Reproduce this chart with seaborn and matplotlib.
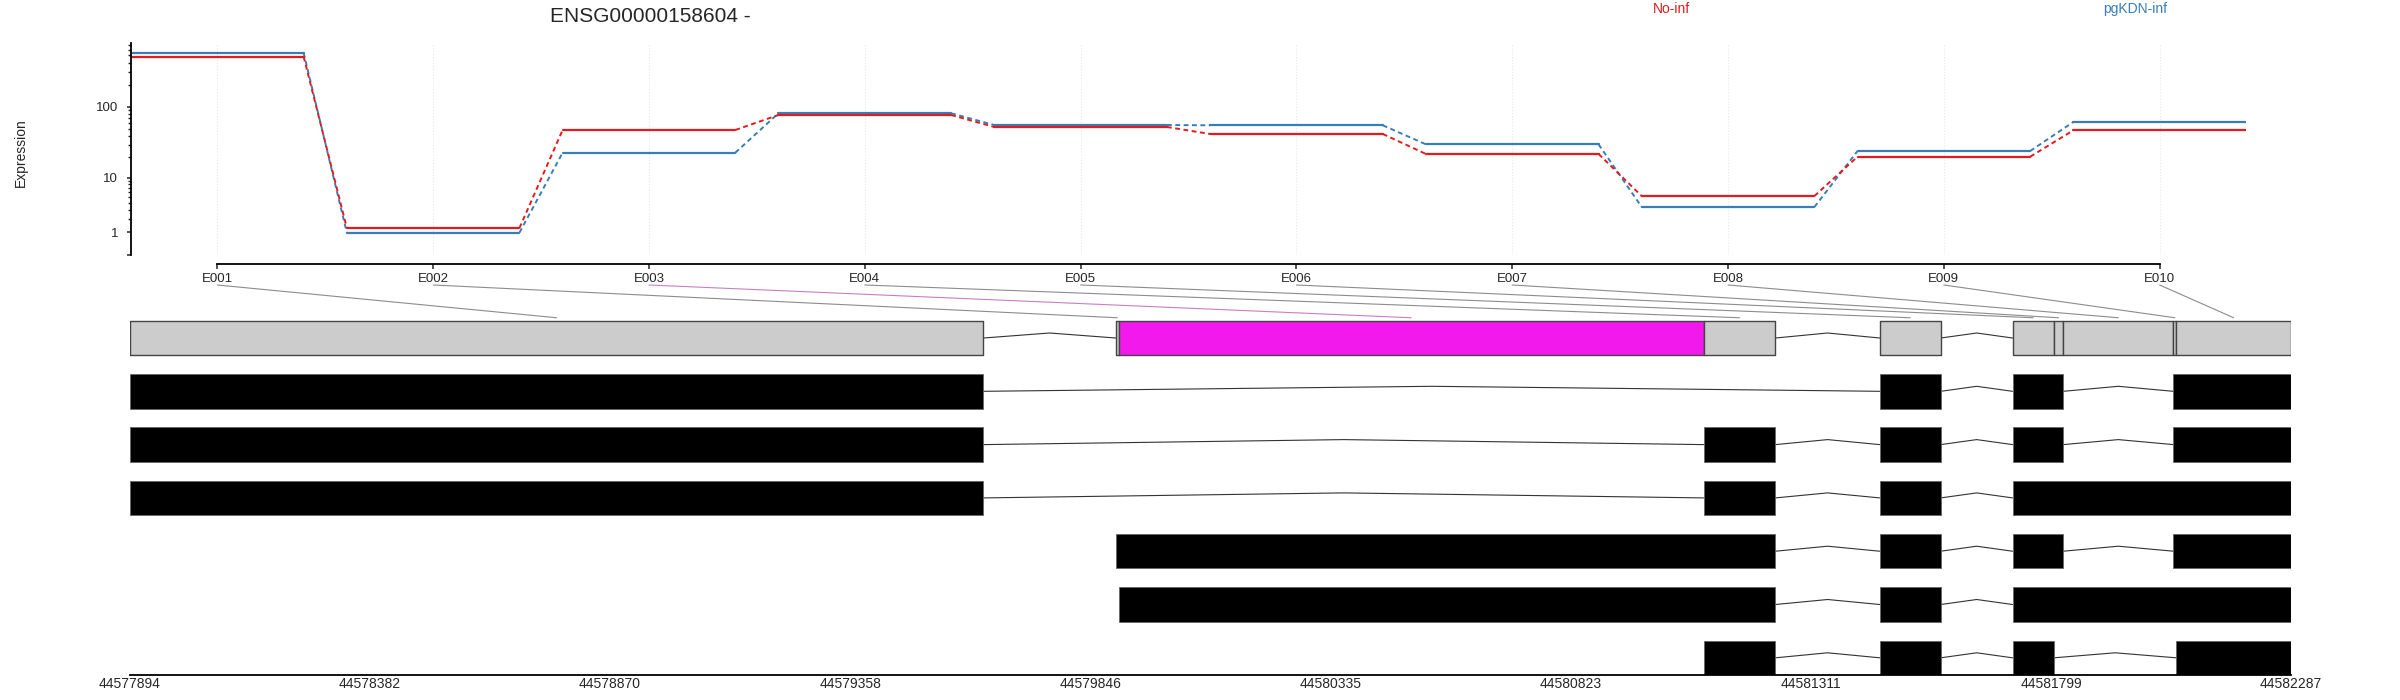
import numpy as np
import pandas as pd
import matplotlib
matplotlib.use("Agg")
import matplotlib.pyplot as plt
from matplotlib import transforms
from matplotlib.patches import ConnectionPatch
import seaborn as sns

# ---- data ----
gene_id = "ENSG00000158604 -"
exon_ids = ["E001", "E002", "E003", "E004", "E005",
            "E006", "E007", "E008", "E009", "E010"]
conditions = ["No-inf", "pgKDN-inf"]
expr_noinf = [480, 1.29, 47.8, 77, 52.6, 42.1, 22.1, 5.2, 20.2, 47.3]
expr_pgkdn = [540, 0.98, 23.0, 81.2, 56.0, 55.5, 30.2, 3.4, 24.3, 61.7]
sig_exons = ["E003"]

# exon bin genomic coordinates
bin_start = [44577894, 44579898, 44579904, 44581093, 44581451,
             44581721, 44581805, 44581824, 44582048, 44582054]
bin_end = [44579629, 44579904, 44581093, 44581239, 44581575,
           44581805, 44581824, 44582048, 44582054, 44582287]

# transcripts, as the exon bins they cover
transcripts = [
    ["E001", "E005", "E006", "E007", "E009", "E010"],
    ["E001", "E004", "E005", "E006", "E007", "E009", "E010"],
    ["E001", "E004", "E005", "E006", "E007", "E008", "E009", "E010"],
    ["E002", "E003", "E004", "E005", "E006", "E007", "E009", "E010"],
    ["E003", "E004", "E005", "E006", "E007", "E008", "E009", "E010"],
    ["E004", "E005", "E006", "E010"],
]

genome_ticks = [44577894, 44578382, 44578870, 44579358, 44579846,
                44580335, 44580823, 44581311, 44581799, 44582287]

palette = {"No-inf": "#E41A1C", "pgKDN-inf": "#377EB8"}
sig_col = "#F219ED"

sns.set_theme(style="ticks")
plt.rcParams['font.family'] = ['Liberation Sans', 'DejaVu Sans']

W, H = 2400, 700
fig = plt.figure(figsize=(24, 7), dpi=100)

# ---- expression panel ----
ax_top = fig.add_axes([131 / W, 1 - 254.5 / H, 2115 / W, (254.5 - 43.3) / H])

seg_rows, link_rows = [], []
for cond, vals in zip(conditions, [expr_noinf, expr_pgkdn]):
    for i, v in enumerate(vals, start=1):
        seg_rows.append(dict(condition=cond, seg=i, x=i - 0.4, expr=v))
        seg_rows.append(dict(condition=cond, seg=i, x=i + 0.4, expr=v))
    for i in range(1, len(vals)):
        link_rows.append(dict(condition=cond, seg=i, x=i + 0.4, expr=vals[i - 1]))
        link_rows.append(dict(condition=cond, seg=i, x=i + 0.6, expr=vals[i]))
seg_df = pd.DataFrame(seg_rows)
link_df = pd.DataFrame(link_rows)

order = ["pgKDN-inf", "No-inf"]
sns.lineplot(data=link_df, x="x", y="expr", hue="condition", units="seg",
             estimator=None, hue_order=order, palette=palette, lw=1.4,
             linestyle=(0, (2.5, 1.8)), legend=False, sort=False, ax=ax_top)
sns.lineplot(data=seg_df, x="x", y="expr", hue="condition", units="seg",
             estimator=None, hue_order=order, palette=palette, lw=1.6,
             legend=False, sort=False, ax=ax_top)

ax_top.set_yscale("function", functions=(lambda v: np.log10(v + 1),
                                         lambda y: 10 ** y - 1))
ax_top.set_ylim(0, 730)
ax_top.set_xlim(0.6, 10.4)
ax_top.set_xticks(range(1, len(exon_ids) + 1))
ax_top.set_xticklabels(exon_ids)
ax_top.set_yticks([0, 1, 10, 100])
ax_top.set_yticklabels(["", "1", "10", "100"])
minor = [m * d for d in (1, 10, 100) for m in range(2, 10) if m * d <= 700]
ax_top.set_yticks(minor, minor=True)
ax_top.set_xlabel("")
ax_top.set_ylabel("")
ax_top.grid(axis="x", color="#e8e8e8", linestyle=":", lw=0.8)
for s in ["top", "right"]:
    ax_top.spines[s].set_visible(False)
ax_top.spines["bottom"].set_position(("outward", 7))
ax_top.spines["bottom"].set_bounds(1, 10)
for s in ["left", "bottom"]:
    ax_top.spines[s].set_linewidth(1.3)
    ax_top.spines[s].set_color("black")
ax_top.tick_params(axis="y", which="major", length=3.2, width=1.1, pad=6, labelsize=9.5)
ax_top.tick_params(axis="y", which="minor", length=2.2, width=1.0, left=True)
ax_top.tick_params(axis="x", which="major", length=3.5, width=1.1, pad=2.5, labelsize=9.5)
ax_top.tick_params(axis="x", which="minor", bottom=False)

fig.text(650 / W, 1 - 16 / H, gene_id, ha="center", va="center", fontsize=15)
fig.text(1672 / W, 1 - 9 / H, conditions[0], ha="center", va="center",
         fontsize=10, color=palette["No-inf"])
fig.text(2135 / W, 1 - 9 / H, conditions[1], ha="center", va="center",
         fontsize=10, color=palette["pgKDN-inf"])
fig.text(21 / W, 1 - 153 / H, "Expression", rotation=90, ha="center",
         va="center", fontsize=10)

# ---- gene model panel ----
ax_bot = fig.add_axes([130 / W, 1 - 675 / H, (2291 - 130) / W, 375 / H])
box_h = 0.645
peak = 0.094


def blocks(ids):
    idx = [exon_ids.index(e) for e in ids]
    out = []
    for k in idx:
        if out and k == out[-1][2] + 1 and bin_start[k] == out[-1][1]:
            out[-1] = (out[-1][0], bin_end[k], k)
        else:
            out.append((bin_start[k], bin_end[k], k))
    return [(a, b) for a, b, _ in out]


def draw_introns(bl, row):
    for (s0, e0), (s1, e1) in zip(bl[:-1], bl[1:]):
        ax_bot.plot([e0, (e0 + s1) / 2, s1], [row, row - peak, row],
                    color="#333333", lw=0.8, zorder=1)


# row 0: exon bins
bin_cols = [sig_col if e in sig_exons else "#CCCCCC" for e in exon_ids]
ax_bot.broken_barh([(s, e - s) for s, e in zip(bin_start, bin_end)],
                   (-box_h / 2, box_h), facecolors=bin_cols,
                   edgecolor="#444444", lw=1.0, zorder=2)
draw_introns(blocks(exon_ids), 0)

# transcripts
for r, tx in enumerate(transcripts, start=1):
    bl = blocks(tx)
    ax_bot.broken_barh([(s, e - s) for s, e in bl], (r - box_h / 2, box_h),
                       facecolors="black", edgecolor="#666666", lw=0.6, zorder=2)
    draw_introns(bl, r)

ax_bot.set_xlim(genome_ticks[0], genome_ticks[-1])
ax_bot.set_ylim(len(transcripts) + box_h / 2, len(transcripts) + box_h / 2 - 375 / 53.3)
ax_bot.set_xticks(genome_ticks)
ax_bot.set_xticklabels([str(t) for t in genome_ticks])
ax_bot.set_yticks([])
for s in ["top", "right", "left"]:
    ax_bot.spines[s].set_visible(False)
ax_bot.spines["bottom"].set_linewidth(1.3)
ax_bot.spines["bottom"].set_color("black")
ax_bot.tick_params(axis="x", length=0, pad=1.5, labelsize=10)

# connectors from exon labels to bins
trans_a = transforms.blended_transform_factory(ax_top.transData, fig.transFigure)
for i, e in enumerate(exon_ids):
    mid = (bin_start[i] + bin_end[i]) / 2
    col = "#C77FC4" if e in sig_exons else "#8C8C8C"
    con = ConnectionPatch(xyA=(i + 1, 1 - 285 / H), coordsA=trans_a,
                          xyB=(mid, -0.38), coordsB=ax_bot.transData,
                          color=col, lw=0.8)
    fig.add_artist(con)

fig.savefig("out.png", dpi=100)
